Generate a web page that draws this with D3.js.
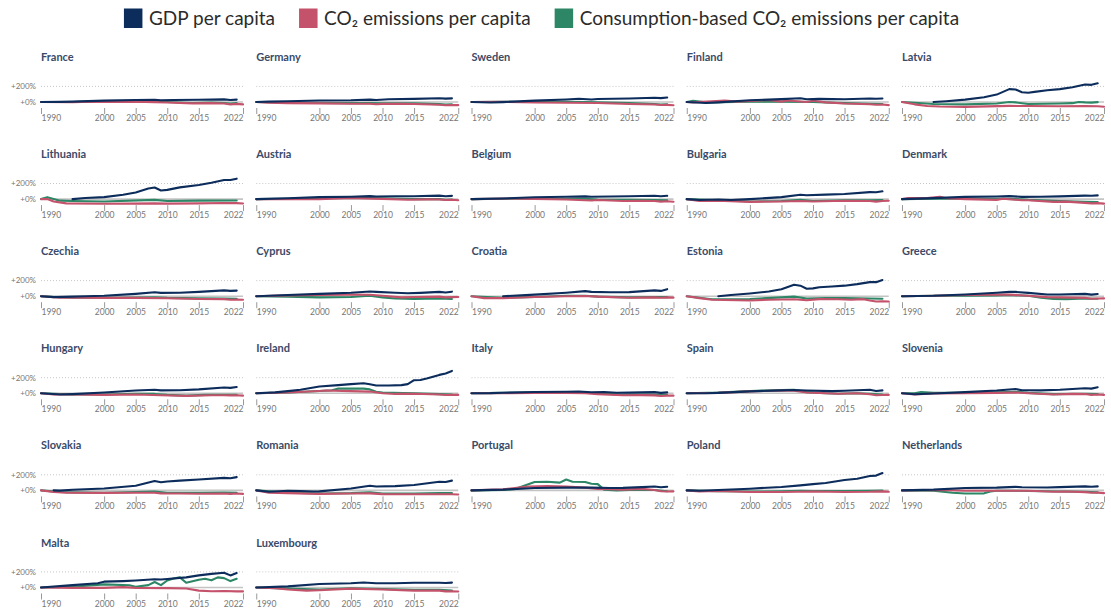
<!DOCTYPE html>
<html>
<head>
<meta charset="utf-8">
<script src="https://cdn.jsdelivr.net/npm/d3@7"></script>
<style>
  body { margin: 0; background: #fff; font-family: Lato, "Noto Sans", sans-serif; }
</style>
</head>
<body>
<svg id="chart" width="1111" height="615"></svg>
<script>
// change since first year, in %; each series is a list of [year, value]
var countries = ["France", "Germany", "Sweden", "Finland", "Latvia",
  "Lithuania", "Austria", "Belgium", "Bulgaria", "Denmark",
  "Czechia", "Cyprus", "Croatia", "Estonia", "Greece",
  "Hungary", "Ireland", "Italy", "Spain", "Slovenia",
  "Slovakia", "Romania", "Portugal", "Poland", "Netherlands",
  "Malta", "Luxembourg"];

var seriesNames = ["GDP per capita", "CO₂ emissions per capita", "Consumption-based CO₂ emissions per capita"];
var yearTicks = [1990, 2000, 2005, 2010, 2015, 2022];
var pctTicks = [0, 200];

var gdpPerCapita = [
  [[1990,0],[1993,2],[1995,5],[2000,17],[2005,25],[2008,28],[2009,23],[2011,26],[2015,28],[2019,34],[2020,25],[2021,31]],
  [[1990,0],[1992,5],[1995,10],[2000,20],[2005,22],[2008,31],[2009,25],[2011,35],[2015,40],[2019,48],[2020,43],[2021,46]],
  [[1990,0],[1993,-7],[1995,-2],[2000,18],[2005,33],[2007,42],[2009,33],[2010,38],[2015,45],[2019,55],[2020,50],[2021,57]],
  [[1990,0],[1993,-13],[1995,-5],[2000,22],[2005,37],[2008,48],[2009,35],[2011,40],[2015,35],[2019,45],[2020,41],[2021,45]],
  [[1995,0],[1997,10],[2000,30],[2003,60],[2005,95],[2007,165],[2008,160],[2009,125],[2010,118],[2011,130],[2013,150],[2015,165],[2017,190],[2019,225],[2020,220],[2021,240]],
  [[1995,0],[1997,15],[2000,25],[2003,55],[2005,85],[2007,135],[2008,148],[2009,111],[2010,118],[2012,150],[2015,180],[2017,210],[2019,245],[2020,245],[2021,262]],
  [[1990,0],[1995,10],[2000,25],[2005,30],[2008,38],[2009,33],[2012,37],[2015,37],[2019,45],[2020,37],[2021,41]],
  [[1990,0],[1995,8],[2000,24],[2005,30],[2008,35],[2009,31],[2012,33],[2015,36],[2019,43],[2020,36],[2021,42]],
  [[1990,0],[1992,-12],[1995,-5],[1997,-12],[2000,0],[2005,25],[2008,55],[2009,50],[2012,58],[2015,65],[2019,90],[2020,88],[2021,100]],
  [[1990,0],[1995,12],[2000,28],[2005,33],[2007,38],[2009,28],[2012,30],[2015,35],[2019,45],[2020,42],[2021,48]],
  [[1990,0],[1992,-12],[1995,-5],[1997,0],[2000,5],[2005,30],[2008,50],[2009,43],[2012,45],[2015,55],[2019,75],[2020,68],[2021,72]],
  [[1990,0],[1995,15],[2000,30],[2005,45],[2008,60],[2009,55],[2012,45],[2014,38],[2016,43],[2019,55],[2020,48],[2021,58]],
  [[1995,0],[2000,20],[2005,45],[2008,65],[2009,55],[2012,50],[2015,52],[2019,75],[2020,68],[2021,90]],
  [[1995,0],[1997,15],[2000,35],[2003,60],[2005,90],[2007,146],[2008,135],[2009,96],[2010,100],[2011,115],[2013,125],[2015,135],[2017,155],[2019,180],[2020,180],[2021,208]],
  [[1990,0],[1995,5],[2000,22],[2005,45],[2007,55],[2008,55],[2010,43],[2013,22],[2015,22],[2019,30],[2020,20],[2021,28]],
  [[1990,0],[1993,-15],[1995,-10],[2000,10],[2005,35],[2008,45],[2009,38],[2012,40],[2015,50],[2019,75],[2020,70],[2021,80]],
  [[1990,0],[1993,12],[1995,28],[1997,45],[2000,88],[2003,105],[2005,118],[2007,128],[2008,115],[2009,100],[2011,100],[2013,105],[2014,118],[2015,168],[2016,170],[2017,190],[2019,236],[2020,255],[2021,287]],
  [[1990,0],[1993,2],[1995,7],[2000,17],[2005,20],[2007,23],[2009,13],[2011,16],[2013,8],[2015,9],[2019,15],[2020,5],[2021,12]],
  [[1990,0],[1993,0],[1995,5],[2000,25],[2005,38],[2007,43],[2009,36],[2013,28],[2015,33],[2019,45],[2020,30],[2021,37]],
  [[1990,0],[1992,-12],[1995,-3],[2000,15],[2005,35],[2008,55],[2009,40],[2012,38],[2015,45],[2019,65],[2020,60],[2021,78]],
  [[1992,0],[1993,-3],[1995,8],[2000,25],[2005,60],[2008,120],[2009,105],[2010,115],[2012,125],[2015,140],[2019,160],[2020,155],[2021,170]],
  [[1990,0],[1992,-18],[1995,-5],[1997,-8],[1999,-15],[2000,-12],[2005,25],[2008,60],[2009,50],[2012,55],[2015,70],[2019,110],[2020,108],[2021,125]],
  [[1990,0],[1995,10],[2000,30],[2005,35],[2008,38],[2009,35],[2012,30],[2014,32],[2017,42],[2019,50],[2020,40],[2021,47]],
  [[1990,0],[1992,-5],[1995,5],[2000,22],[2005,44],[2008,65],[2010,80],[2012,95],[2015,133],[2017,150],[2019,185],[2020,190],[2021,222]],
  [[1990,0],[1995,10],[2000,30],[2005,35],[2008,45],[2009,40],[2013,38],[2015,42],[2019,52],[2020,47],[2021,52]],
  [[1990,0],[1995,30],[1999,55],[2000,75],[2003,82],[2005,90],[2008,105],[2009,102],[2010,110],[2013,130],[2015,155],[2017,175],[2019,190],[2020,155],[2021,185]],
  [[1990,0],[1995,15],[2000,45],[2005,55],[2007,65],[2009,55],[2012,55],[2015,60],[2019,60],[2020,58],[2021,62]]
];

var co2PerCapita = [
  [[1990,0],[1995,-2],[1998,3],[2000,2],[2005,3],[2008,-2],[2010,-6],[2014,-17],[2017,-14],[2019,-20],[2020,-30],[2021,-24],[2022,-30]],
  [[1990,0],[1992,-10],[1995,-14],[2000,-18],[2005,-22],[2008,-22],[2009,-28],[2010,-24],[2013,-22],[2015,-25],[2019,-35],[2020,-42],[2021,-38],[2022,-40]],
  [[1990,0],[1995,3],[2000,-7],[2005,-10],[2010,-12],[2015,-25],[2019,-33],[2020,-38],[2021,-37],[2022,-42]],
  [[1990,0],[1991,-5],[1994,10],[1996,18],[1998,5],[2003,25],[2005,5],[2006,20],[2009,0],[2010,15],[2012,-5],[2015,-20],[2019,-28],[2020,-35],[2021,-32],[2022,-40]],
  [[1990,0],[1992,-30],[1994,-52],[1996,-58],[2000,-62],[2007,-50],[2010,-52],[2015,-55],[2019,-52],[2021,-55],[2022,-60]],
  [[1990,0],[1991,0],[1992,-30],[1994,-55],[2000,-60],[2008,-55],[2010,-58],[2015,-55],[2019,-50],[2021,-52],[2022,-57]],
  [[1990,0],[1995,-2],[2000,0],[2005,15],[2010,3],[2014,-8],[2017,-3],[2019,-5],[2020,-12],[2021,-8],[2022,-15]],
  [[1990,0],[1996,8],[2000,2],[2005,-5],[2009,-18],[2010,-12],[2014,-25],[2017,-23],[2019,-25],[2020,-32],[2021,-28],[2022,-33]],
  [[1990,0],[1992,-25],[1995,-20],[2000,-35],[2005,-30],[2008,-25],[2010,-30],[2015,-22],[2019,-25],[2020,-32],[2021,-25],[2022,-22]],
  [[1990,0],[1991,15],[1994,12],[1996,30],[1997,10],[2000,0],[2005,-10],[2006,5],[2009,-15],[2010,-15],[2014,-35],[2016,-32],[2019,-48],[2020,-55],[2021,-52],[2022,-58]],
  [[1990,0],[1993,-18],[1996,-20],[2000,-22],[2005,-22],[2010,-27],[2015,-35],[2019,-38],[2020,-45],[2021,-42],[2022,-45]],
  [[1990,0],[1995,10],[2000,15],[2004,20],[2008,18],[2010,5],[2013,-15],[2015,-10],[2019,-5],[2020,-15],[2021,-12],[2022,-10]],
  [[1990,0],[1992,-25],[1995,-25],[2000,-10],[2005,0],[2008,2],[2010,-5],[2015,-20],[2019,-15],[2020,-20],[2021,-15],[2022,-18]],
  [[1990,0],[1992,-25],[1994,-45],[2000,-55],[2003,-45],[2007,-40],[2009,-52],[2011,-38],[2014,-40],[2016,-45],[2018,-38],[2019,-55],[2020,-68],[2021,-65],[2022,-68]],
  [[1990,0],[1995,5],[2000,15],[2005,20],[2007,20],[2010,5],[2013,-12],[2015,-15],[2019,-22],[2020,-32],[2021,-30],[2022,-28]],
  [[1990,0],[1992,-15],[1995,-15],[2000,-20],[2005,-15],[2009,-25],[2013,-33],[2017,-25],[2019,-25],[2020,-27],[2021,-25],[2022,-30]],
  [[1990,0],[1995,10],[2000,30],[2001,35],[2005,28],[2008,22],[2010,0],[2012,-8],[2015,-5],[2019,-15],[2020,-22],[2021,-18],[2022,-20]],
  [[1990,0],[1995,0],[2000,3],[2005,5],[2008,0],[2010,-10],[2014,-25],[2017,-23],[2019,-27],[2020,-35],[2021,-30],[2022,-30]],
  [[1990,0],[1995,5],[2000,25],[2005,35],[2007,33],[2009,10],[2012,0],[2014,-5],[2017,0],[2019,-12],[2020,-25],[2021,-22],[2022,-20]],
  [[1990,0],[1992,-15],[1995,-3],[2000,0],[2005,5],[2008,10],[2010,0],[2014,-15],[2017,-8],[2019,-10],[2020,-20],[2021,-15],[2022,-20]],
  [[1990,0],[1992,-20],[1994,-30],[2000,-32],[2005,-30],[2008,-30],[2009,-38],[2012,-40],[2015,-42],[2019,-40],[2020,-45],[2021,-40],[2022,-45]],
  [[1990,0],[1992,-30],[1995,-35],[2000,-45],[2005,-40],[2008,-38],[2010,-48],[2015,-50],[2019,-50],[2021,-50],[2022,-53]],
  [[1990,0],[1995,15],[1999,50],[2002,55],[2005,50],[2008,35],[2010,20],[2012,15],[2014,10],[2017,20],[2019,5],[2020,-10],[2021,-15],[2022,-12]],
  [[1990,0],[1992,-12],[1995,-8],[2000,-20],[2005,-20],[2010,-15],[2015,-20],[2019,-18],[2021,-12],[2022,-18]],
  [[1990,0],[1996,5],[2000,-5],[2005,-5],[2010,-5],[2014,-18],[2016,-15],[2019,-22],[2020,-30],[2021,-28],[2022,-35]],
  [[1990,0],[1995,-5],[2000,-5],[2003,5],[2005,-5],[2010,-8],[2013,-12],[2015,-40],[2017,-48],[2019,-45],[2021,-50],[2022,-50]],
  [[1990,0],[1993,-10],[1995,-25],[1998,-40],[2000,-35],[2005,-15],[2010,-25],[2015,-40],[2019,-40],[2020,-50],[2021,-48],[2022,-52]]
];

var consumptionCo2 = [
  [[1990,0],[1995,0],[2000,8],[2005,12],[2008,8],[2010,0],[2014,-12],[2017,-8],[2019,-12],[2020,-20],[2021,-15]],
  [[1990,0],[1995,-10],[2000,-12],[2005,-15],[2008,-12],[2010,-16],[2015,-18],[2019,-27],[2020,-33],[2021,-30]],
  [[1990,0],[1995,3],[2000,0],[2005,3],[2008,0],[2010,-3],[2015,-15],[2019,-25],[2020,-32],[2021,-28]],
  [[1990,0],[1991,15],[1993,-5],[2000,5],[2005,5],[2010,0],[2015,-15],[2019,-22],[2021,-25]],
  [[1990,0],[1992,-10],[1995,-25],[2000,-30],[2005,-20],[2007,0],[2008,-5],[2010,-25],[2015,-20],[2017,-15],[2018,0],[2019,-5],[2020,-8],[2021,-2]],
  [[1990,0],[1991,25],[1993,-20],[1995,-25],[2000,-30],[2008,-10],[2010,-25],[2015,-20],[2021,-18]],
  [[1990,0],[1995,5],[2000,10],[2005,20],[2008,15],[2010,10],[2015,0],[2019,0],[2020,-8],[2021,-5]],
  [[1990,0],[1995,5],[2000,5],[2005,5],[2008,5],[2010,-5],[2015,-10],[2019,-12],[2021,-15]],
  [[1990,0],[1995,-15],[2000,-30],[2005,-25],[2008,-10],[2010,-25],[2015,-15],[2019,-15],[2021,-12]],
  [[1990,0],[1995,5],[2000,5],[2005,5],[2008,0],[2010,-10],[2015,-25],[2019,-35],[2021,-38]],
  [[1990,0],[1995,-20],[2000,-20],[2005,-18],[2008,-15],[2010,-22],[2015,-28],[2019,-30],[2021,-33]],
  [[1990,0],[1995,-5],[2000,-15],[2005,-10],[2008,5],[2010,-15],[2012,-30],[2015,-35],[2019,-30],[2021,-35]],
  [[1990,0],[1995,-20],[2000,-10],[2005,5],[2008,5],[2010,-5],[2015,-15],[2019,-10],[2021,-12]],
  [[1990,0],[1994,-40],[2000,-35],[2005,-15],[2007,-5],[2009,-30],[2012,-25],[2015,-25],[2019,-30],[2021,-33]],
  [[1990,0],[1995,5],[2000,5],[2005,10],[2007,15],[2010,5],[2012,-20],[2014,-35],[2016,-38],[2019,-30],[2021,-32]],
  [[1990,0],[1995,-15],[2000,-15],[2005,-5],[2008,-8],[2010,-20],[2013,-30],[2016,-20],[2019,-18],[2021,-20]],
  [[1990,0],[1995,10],[2000,30],[2002,40],[2003,60],[2005,62],[2007,60],[2008,50],[2009,20],[2010,10],[2015,0],[2019,-10],[2021,-15]],
  [[1990,0],[1995,5],[2000,10],[2005,12],[2008,8],[2010,0],[2014,-20],[2017,-15],[2019,-18],[2021,-22]],
  [[1990,0],[1995,10],[2000,30],[2005,42],[2007,45],[2009,15],[2012,0],[2014,-5],[2017,0],[2019,-5],[2021,-15]],
  [[1990,0],[1992,0],[1993,15],[1995,5],[2000,5],[2005,12],[2008,20],[2010,5],[2014,-10],[2019,-5],[2021,-10]],
  [[1990,0],[1993,-20],[1995,-25],[2000,-30],[2005,-20],[2008,-15],[2010,-30],[2015,-30],[2019,-28],[2021,-30]],
  [[1990,0],[1995,-30],[2000,-40],[2005,-35],[2008,-25],[2010,-40],[2015,-40],[2019,-35],[2021,-35]],
  [[1990,0],[1995,5],[1997,20],[2000,108],[2002,110],[2004,100],[2005,140],[2006,110],[2008,108],[2009,85],[2010,80],[2011,10],[2013,0],[2015,5],[2019,5],[2021,-10]],
  [[1990,0],[1995,-10],[2000,-15],[2005,-12],[2008,-5],[2010,-8],[2015,-8],[2019,-5],[2021,-2]],
  [[1990,0],[1995,-5],[1998,-30],[2000,-40],[2003,-38],[2004,-15],[2005,-5],[2008,-5],[2010,-8],[2015,-15],[2019,-18],[2021,-25]],
  [[1990,0],[1995,10],[2000,40],[2004,28],[2005,10],[2007,30],[2008,70],[2009,30],[2010,90],[2011,115],[2012,130],[2013,60],[2015,100],[2016,112],[2017,92],[2018,130],[2019,120],[2020,82],[2021,112]],
  [[1990,0],[1995,-15],[2000,-25],[2005,-10],[2010,-20],[2015,-30],[2019,-30],[2021,-38]]
];

var colors = ["#0c2c5b", "#c5526b", "#2d8766"];

var svg = d3.select("#chart");

var cols = 5, colStep = 215.25, left0 = 41, plotW = 202;
var rowStep = 97.1, base0 = 102, px200 = 15.6;

var x = d3.scaleLinear().domain([1990, 2022]).range([0, plotW]);
var y = d3.scaleLinear().domain([0, 200]).range([0, -px200]);

var line = d3.line()
  .x(function(d) { return x(d[0]); })
  .y(function(d) { return y(d[1]); });

// legend
var legend = svg.append("g");
var lx = 0;
seriesNames.forEach(function(name, k) {
  legend.append("rect")
    .attr("x", lx).attr("y", 8.5)
    .attr("width", 18.5).attr("height", 19.5)
    .attr("fill", colors[k]);
  var t = legend.append("text")
    .attr("x", lx + 25).attr("y", 24.8)
    .style("font-size", "19px")
    .style("fill", "#2b2b2b")
    .text(name);
  lx += 25 + t.node().getComputedTextLength() + 24;
});
lx -= 24;
legend.attr("transform", "translate(" + (541.5 - lx / 2) + ",0)");

// panels
var byCountry = [consumptionCo2, co2PerCapita, gdpPerCapita];
var drawColors = [colors[2], colors[1], colors[0]];

countries.forEach(function(name, i) {
  var g = svg.append("g")
    .attr("transform", "translate(" + (left0 + (i % cols) * colStep) + "," + (base0 + Math.floor(i / cols) * rowStep) + ")");

  g.append("text")
    .attr("x", 0).attr("y", -41)
    .style("font-size", "11px")
    .style("font-weight", "700")
    .style("fill", "#3a4a68")
    .text(name);

  g.append("line")
    .attr("x1", 0).attr("x2", plotW)
    .attr("y1", y(200)).attr("y2", y(200))
    .attr("stroke", "#c8c8c8")
    .attr("stroke-dasharray", "1,2");

  g.append("line")
    .attr("x1", 0).attr("x2", plotW)
    .attr("y1", y(0)).attr("y2", y(0))
    .attr("stroke", "#c4c4c4")
    .attr("stroke-width", 1.6);

  if (i % cols === 0) {
    g.selectAll(".ylab")
      .data(pctTicks)
      .enter().append("text")
        .attr("x", -5)
        .attr("y", function(d) { return y(d); })
        .attr("dy", "0.35em")
        .attr("text-anchor", "end")
        .style("font-size", "8px")
        .style("fill", "#777")
        .text(function(d) { return "+" + d + "%"; });
  }

  var ax = g.append("g")
    .attr("transform", "translate(0,6)")
    .call(d3.axisBottom(x).tickValues(yearTicks).tickFormat(d3.format("d")).tickSize(6).tickPadding(1));
  ax.select(".domain").remove();
  ax.selectAll("line").attr("stroke", "#999");
  ax.selectAll("text")
    .style("font-size", "8.5px")
    .style("font-family", "Lato, sans-serif")
    .style("fill", "#777")
    .attr("text-anchor", function(d) { return d === 1990 ? "start" : d === 2022 ? "end" : "middle"; });

  byCountry.forEach(function(series, k) {
    g.append("path")
      .datum(series[i])
      .attr("d", line)
      .attr("fill", "none")
      .attr("stroke", drawColors[k])
      .attr("stroke-width", 2.1)
      .attr("stroke-linejoin", "round")
      .attr("stroke-linecap", "round");
  });
});
</script>
</body>
</html>
